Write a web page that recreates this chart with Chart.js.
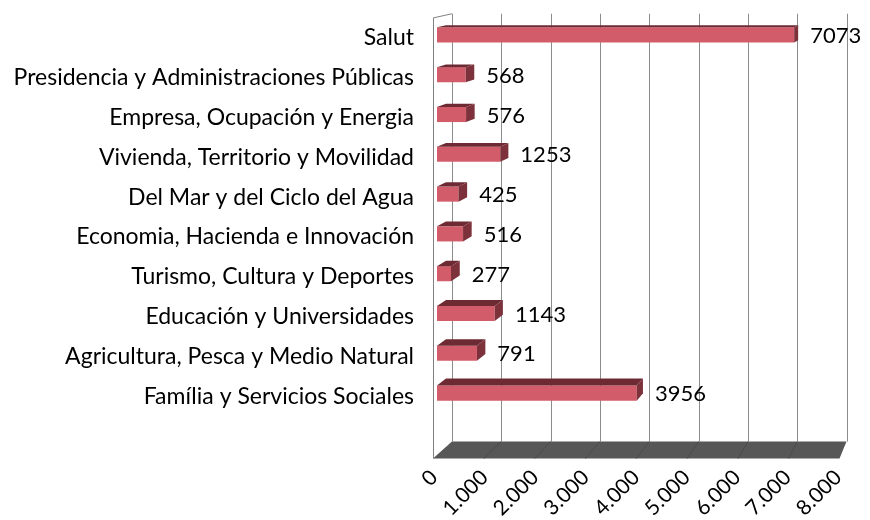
<!DOCTYPE html>
<html>
<head>
<meta charset="utf-8">
<script src="https://cdn.jsdelivr.net/npm/chart.js@4.4.1/dist/chart.umd.min.js"></script>
<style>
  html, body { margin: 0; padding: 0; background: #fff; }
  #wrap { width: 870px; height: 520px; }
</style>
</head>
<body>
<div id="wrap"><canvas id="grafico"></canvas></div>
<script>
const categorias = [
    'Salut',
    'Presidencia y Administraciones Públicas',
    'Empresa, Ocupación y Energia',
    'Vivienda, Territorio y Movilidad',
    'Del Mar y del Ciclo del Agua',
    'Economia, Hacienda e Innovación',
    'Turismo, Cultura y Deportes',
    'Educación y Universidades',
    'Agricultura, Pesca y Medio Natural',
    'Família y Servicios Sociales'
];
const valores = [7073, 568, 576, 1253, 425, 516, 277, 1143, 791, 3956];
const etiquetasX = ['0', '1.000', '2.000', '3.000', '4.000', '5.000', '6.000', '7.000', '8.000'];

// perspectiva 3D (punto de fuga y profundidades relativas al plano frontal de las barras)
const PF = { x: 1078, y: -122 };
const PROF_FRENTE = -0.0062;
const PROF_FONDO = 0.0233;
const PROF_BARRA = 0.014;

function proy(x, y, d) {
    return [PF.x + (x - PF.x) * (1 - d), PF.y + (y - PF.y) * (1 - d)];
}

function poligono(ctx, pts, relleno, borde) {
    ctx.beginPath();
    ctx.moveTo(pts[0][0], pts[0][1]);
    for (let i = 1; i < pts.length; i++) ctx.lineTo(pts[i][0], pts[i][1]);
    ctx.closePath();
    if (relleno) { ctx.fillStyle = relleno; ctx.fill(); }
    if (borde) { ctx.strokeStyle = borde; ctx.lineWidth = 1; ctx.stroke(); }
}

const paredes3d = {
    id: 'paredes3d',
    beforeDatasetsDraw(chart) {
        const ctx = chart.ctx;
        const xs = chart.scales.x;
        const area = chart.chartArea;
        const yArr = area.top + 2;
        const yAbj = area.bottom + 42;
        const xIzq = xs.getPixelForValue(0);
        const xDer = xs.getPixelForValue(8000);
        ctx.save();

        // suelo
        poligono(ctx, [proy(xIzq, yAbj, PROF_FRENTE), proy(xDer, yAbj, PROF_FRENTE),
                       proy(xDer, yAbj, PROF_FONDO), proy(xIzq, yAbj, PROF_FONDO)], '#575757', null);
        ctx.strokeStyle = '#4a4a4a';
        ctx.lineWidth = 1;
        for (let v = 1000; v < 8000; v += 1000) {
            const x = xs.getPixelForValue(v);
            const a = proy(x, yAbj, PROF_FRENTE), b = proy(x, yAbj, PROF_FONDO);
            ctx.beginPath(); ctx.moveTo(a[0], a[1]); ctx.lineTo(b[0], b[1]); ctx.stroke();
        }

        // lineas de division en la pared del fondo
        ctx.strokeStyle = '#8c8c8c';
        for (let v = 0; v <= 8000; v += 1000) {
            const x = xs.getPixelForValue(v);
            const a = proy(x, yArr, PROF_FONDO), b = proy(x, yAbj, PROF_FONDO);
            ctx.beginPath(); ctx.moveTo(Math.round(a[0]) + 0.5, a[1]); ctx.lineTo(Math.round(b[0]) + 0.5, b[1]); ctx.stroke();
        }

        // pared lateral izquierda
        ctx.strokeStyle = '#7f7f7f';
        const f1 = proy(xIzq, yArr, PROF_FRENTE), f2 = proy(xIzq, yAbj, PROF_FRENTE), f3 = proy(xIzq, yArr, PROF_FONDO);
        ctx.beginPath();
        ctx.moveTo(Math.round(f2[0]) + 0.5, f2[1]);
        ctx.lineTo(Math.round(f1[0]) + 0.5, f1[1]);
        ctx.lineTo(f3[0], f3[1]);
        ctx.stroke();
        ctx.restore();
    },
    afterDatasetsDraw(chart) {
        const ctx = chart.ctx;
        const meta = chart.getDatasetMeta(0);
        ctx.save();
        meta.data.forEach((bar, i) => {
            const p = bar.getProps(['x', 'y', 'base', 'height'], true);
            const izq = p.base, der = p.x;
            const arr = p.y - p.height / 2, abj = p.y + p.height / 2;
            // cara superior
            poligono(ctx, [proy(izq, arr, 0), proy(der, arr, 0), proy(der, arr, PROF_BARRA), proy(izq, arr, PROF_BARRA)], '#6e2a33', null);
            // cara lateral
            poligono(ctx, [proy(der, arr, 0), proy(der, abj, 0), proy(der, abj, PROF_BARRA), proy(der, arr, PROF_BARRA)], '#7c313b', null);
            // etiqueta
            const fin = proy(der, arr, PROF_BARRA)[0];
            ctx.fillStyle = '#000';
            ctx.font = '22px Lato';
            ctx.textAlign = 'left';
            ctx.textBaseline = 'middle';
            ctx.fillText(String(valores[i]), fin + 12, p.y + 1);
        });
        ctx.restore();
    }
};

const ctx = document.getElementById('grafico').getContext('2d');
new Chart(ctx, {
    type: 'bar',
    data: {
        labels: categorias,
        datasets: [{
            data: valores,
            backgroundColor: '#d35c6a',
            borderWidth: 0,
            barPercentage: 0.38,
            categoryPercentage: 1
        }]
    },
    options: {
        indexAxis: 'y',
        responsive: true,
        maintainAspectRatio: false,
        animation: false,
        layout: { padding: { top: 15, right: 29, left: 0, bottom: 0 } },
        plugins: {
            legend: { display: false },
            tooltip: { enabled: false }
        },
        scales: {
            x: {
                min: 0,
                max: 8000,
                grid: { display: false, drawTicks: false },
                border: { display: false },
                ticks: {
                    stepSize: 1000,
                    minRotation: 45,
                    maxRotation: 45,
                    padding: 52,
                    labelOffset: -3,
                    color: '#000',
                    font: { family: 'Lato', size: 21 },
                    callback: (v, i) => etiquetasX[i]
                },
                afterFit: s => { s.height = 107; s.paddingLeft = 0; s.paddingRight = 0; }
            },
            y: {
                grid: { display: false, drawTicks: false },
                border: { display: false },
                ticks: {
                    padding: 23,
                    labelOffset: 3,
                    color: '#000',
                    font: { family: 'Lato', size: 23 }
                },
                afterFit: s => { s.width = 437; s.paddingTop = 0; s.paddingBottom = 0; }
            }
        }
    },
    plugins: [paredes3d]
});
</script>
</body>
</html>
